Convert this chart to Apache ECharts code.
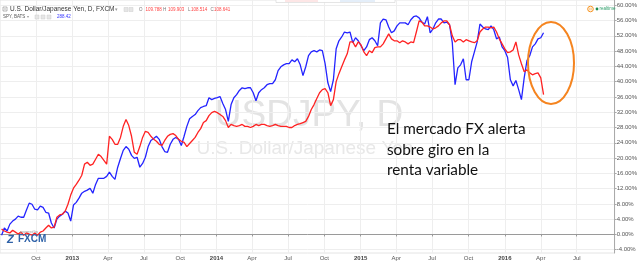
<!DOCTYPE html>
<html><head><meta charset="utf-8">
<script src="https://cdn.jsdelivr.net/npm/echarts@6/dist/echarts.min.js"></script>
<style>html,body{margin:0;padding:0;background:#fff}#c{width:640px;height:261px}</style>
</head><body><div id="c"></div>
<script>
// Weekly samples, % change since first week
const firstWeekUTC = [2012, 6, 6];
const usdjpy = [1.4,0.9,0.6,0.4,1.1,0.6,0.1,0.6,-0.2,0.4,
0.1,-0.2,0.4,-0.2,0.6,0.9,1.7,2.4,1.7,1.9,
4.5,5.1,5.3,6.1,7.9,10.3,12.1,13.1,14.2,15.5,
18.4,18.9,18.1,18.4,19.7,21.0,20.4,19.4,18.4,25.7,
24.9,23.6,23.6,25.4,28.3,30.1,28.5,25.7,21.5,21.0,
23.0,25.4,27.0,26.7,25.7,24.9,24.4,23.6,23.3,24.6,
25.7,26.2,26.4,25.9,24.9,24.4,24.1,23.0,23.8,24.6,
25.4,26.7,27.7,29.3,29.8,31.1,31.9,32.2,31.9,31.4,
30.9,29.8,28.0,28.8,28.5,28.3,28.5,28.8,28.3,28.3,
28.0,28.3,28.8,28.5,28.8,28.8,28.5,28.3,28.5,28.8,
28.5,28.3,28.3,28.3,28.0,28.0,28.5,28.8,29.0,29.3,
29.6,30.9,32.7,34.0,35.6,37.1,37.9,38.2,37.1,33.7,
35.3,40.0,42.1,43.9,45.7,47.3,50.4,50.4,49.1,50.4,
49.6,47.8,46.8,48.1,47.6,48.9,49.1,49.1,49.9,51.2,
52.5,51.2,50.7,50.7,50.2,50.7,50.4,49.9,50.4,50.2,
53.0,55.9,55.6,54.6,54.6,54.3,53.8,54.1,54.6,55.4,
55.9,55.9,54.9,52.0,50.4,51.0,51.0,50.4,51.0,50.7,
50.4,50.2,50.7,53.0,53.8,54.3,54.3,54.1,54.3,53.0,
51.2,49.9,48.6,47.6,47.8,48.3,50.4,47.0,44.7,42.6,
43.1,42.3,41.8,42.1,42.3,41.0,36.6];
const spy = [-0.2,1.7,0.9,2.7,3.5,4.0,4.8,4.5,4.5,6.4,
8.2,7.9,6.6,6.4,7.4,7.1,5.8,5.6,3.0,1.7,
4.0,4.8,5.3,6.1,5.6,3.5,7.7,8.4,9.5,10.8,
11.3,11.6,12.1,10.8,13.1,14.7,14.7,14.7,15.2,16.3,
15.2,14.4,17.6,19.9,22.0,23.0,22.3,20.7,19.9,20.2,
17.6,18.6,20.2,23.0,24.6,25.1,25.7,24.9,23.0,21.7,
21.5,23.6,24.9,25.4,24.9,23.3,25.7,28.3,30.3,30.9,
31.4,32.4,33.2,33.5,33.7,35.8,35.3,35.6,35.8,36.1,
34.3,32.7,29.6,34.0,35.8,36.6,37.7,38.4,38.2,38.4,
38.4,37.1,35.0,37.1,37.9,38.4,39.2,39.5,39.5,40.5,
42.9,43.9,44.4,44.7,44.7,45.7,45.2,46.0,44.4,41.6,
43.9,46.8,47.8,48.1,47.8,48.3,48.1,44.7,39.7,37.4,
40.5,48.6,50.7,51.7,53.0,52.8,53.0,50.2,51.5,50.7,
49.4,48.1,49.1,51.0,51.5,50.7,49.4,55.4,56.4,56.2,
54.3,52.8,53.3,54.6,55.4,55.4,55.4,54.9,56.2,57.0,
57.2,56.7,55.6,55.1,57.0,52.8,53.8,55.4,56.4,56.4,
55.4,55.6,54.9,50.2,39.2,43.6,44.4,46.0,40.5,40.5,
45.2,47.8,50.4,55.1,54.3,53.8,53.6,54.6,53.6,51.2,
51.7,49.1,48.1,46.3,40.5,38.9,40.3,37.9,35.3,41.0,
45.5,46.8,49.1,49.9,51.2,51.5,52.8];
const xTickDates = ['2012-10-01','2013-01-01','2013-04-01','2013-07-01','2013-10-01','2014-01-01','2014-04-01','2014-07-01','2014-10-01','2015-01-01','2015-04-01','2015-07-01','2015-10-01','2016-01-01','2016-04-01','2016-07-01'];
const yTicks = [-4,0,4,8,12,16,20,24,28,32,36,40,44,48,52,56,60];
const monthNames = ['Jan','Feb','Mar','Apr','May','Jun','Jul','Aug','Sep','Oct','Nov','Dec'];
const annotationLines = ['El mercado FX alerta','sobre giro en la','renta variable'];

const DAY = 86400000;
const t0 = Date.UTC(firstWeekUTC[0], firstWeekUTC[1], firstWeekUTC[2]);
const weekDates = usdjpy.map((_, i) => t0 + i * 7 * DAY);
const toUTC = s => { const p = s.split('-').map(Number); return Date.UTC(p[0], p[1]-1, p[2]); };
const xTicks = xTickDates.map(toUTC);
const FONT = 'Liberation Sans, Arial, sans-serif';

const chart = echarts.init(document.getElementById('c'), null, {renderer: 'canvas'});
const txt = (x, y, text, font, fill, extra) => Object.assign({
  type: 'text', x: x, y: y, z: 50,
  style: {text: text, font: font, fill: fill, textAlign: 'left', textVerticalAlign: 'middle'}
}, extra || {});

chart.setOption({
  animation: false,
  backgroundColor: '#fff',
  grid: {left: 0, right: 21, top: 0, bottom: 7, show: true, borderColor: '#e4e4e4', borderWidth: 1},
  xAxis: {
    type: 'value',
    min: Date.UTC(2012, 6, 2), max: Date.UTC(2016, 9, 5),
    axisLine: {show: true, lineStyle: {color: '#9a9a9a', width: 1}},
    axisTick: {show: true, customValues: xTicks, length: 2, lineStyle: {color: '#9a9a9a'}},
    axisLabel: {
      customValues: xTicks, fontSize: 6, color: '#555', margin: 2, fontFamily: FONT, hideOverlap: false,
      formatter: v => { const d = new Date(v); return d.getUTCMonth() === 0 ? '{y|' + d.getUTCFullYear() + '}' : monthNames[d.getUTCMonth()]; },
      rich: {y: {fontSize: 6, fontWeight: 'bold', color: '#444', fontFamily: FONT}}
    },
    splitLine: {show: true, lineStyle: {color: '#eeeeee', width: 1}}
  },
  yAxis: {
    type: 'value', position: 'right',
    min: -4.86, max: 61.38,
    axisLine: {show: true, lineStyle: {color: '#aaaaaa', width: 1}},
    axisTick: {show: true, customValues: yTicks, length: 2, lineStyle: {color: '#aaa'}},
    axisLabel: {customValues: yTicks, fontSize: 6, color: '#555', margin: 2, fontFamily: FONT,
      formatter: v => v.toFixed(2) + '%'},
    splitLine: {show: true, lineStyle: {color: '#eeeeee', width: 1}}
  },
  series: [
    {name: 'SPY', type: 'line', showSymbol: false, z: 3,
     lineStyle: {color: '#2424ff', width: 1.3}, itemStyle: {color: '#2424ff'},
     data: spy.map((v, i) => [weekDates[i], v])},
    {name: 'USDJPY', type: 'line', showSymbol: false, z: 4,
     lineStyle: {color: '#ff2222', width: 1.3}, itemStyle: {color: '#ff2222'},
     data: usdjpy.map((v, i) => [weekDates[i], v])}
  ],
  graphic: [
    {type: 'text', x: 309, y: 116, z: 0, silent: true,
     style: {text: 'USDJPY, D', font: '37px ' + FONT, fill: '#e3e3e3', textAlign: 'center', textVerticalAlign: 'middle'}},
    {type: 'text', x: 305, y: 149, z: 0, silent: true,
     style: {text: 'U.S. Dollar/Japanese Yen', font: '19px ' + FONT, fill: '#e8e8e8', textAlign: 'center', textVerticalAlign: 'middle'}},
    // partial toolbar at top
    {type: 'rect', z: 50, shape: {x: 276, y: -1, width: 119, height: 3.5}, style: {fill: '#fff', stroke: '#d4d4d4', lineWidth: 0.6}},
    {type: 'rect', z: 51, shape: {x: 285, y: -1, width: 33, height: 3}, style: {fill: '#fde6e6'}},
    {type: 'rect', z: 51, shape: {x: 340, y: -1, width: 35, height: 3}, style: {fill: '#e4eef9'}},
    // header
    {type: 'rect', z: 50, shape: {x: 3, y: 7, width: 4, height: 4}, style: {fill: 'none', stroke: '#888', lineWidth: 0.6}},
    {type: 'line', z: 50, shape: {x1: 4, y1: 9, x2: 6, y2: 9}, style: {stroke: '#888', lineWidth: 0.6}},
    txt(10, 9.5, 'U.S. Dollar/Japanese Yen, D, FXCM', '6.5px ' + FONT, '#333'),
    txt(115, 9.5, '▾', '5px ' + FONT, '#999'),
    {type: 'rect', z: 50, shape: {x: 124, y: 7.5, width: 4, height: 4}, style: {fill: '#e6e6e6', stroke: '#ccc', lineWidth: 0.5}},
    {type: 'rect', z: 50, shape: {x: 129, y: 7.5, width: 4, height: 4}, style: {fill: '#e6e6e6', stroke: '#ccc', lineWidth: 0.5}},
    txt(139, 9.5, 'O', '4.5px ' + FONT, '#777'),
    txt(145.5, 9.5, '109.788', '4.5px ' + FONT, '#ff4444'),
    txt(163, 9.5, 'H', '4.5px ' + FONT, '#777'),
    txt(168, 9.5, '109.903', '4.5px ' + FONT, '#ff4444'),
    txt(188, 9.5, 'L', '4.5px ' + FONT, '#777'),
    txt(191, 9.5, '108.514', '4.5px ' + FONT, '#ff4444'),
    txt(210.5, 9.5, 'C', '4.5px ' + FONT, '#777'),
    txt(214, 9.5, '108.641', '4.5px ' + FONT, '#ff4444'),
    txt(3, 17, 'SPY, BATS', '4.5px ' + FONT, '#555'),
    txt(27, 17, '▾', '4px ' + FONT, '#999'),
    {type: 'rect', z: 50, shape: {x: 35, y: 15, width: 4, height: 4}, style: {fill: '#e6e6e6', stroke: '#ccc', lineWidth: 0.5}},
    {type: 'rect', z: 50, shape: {x: 41, y: 15, width: 4, height: 4}, style: {fill: '#e6e6e6', stroke: '#ccc', lineWidth: 0.5}},
    {type: 'rect', z: 50, shape: {x: 47, y: 15, width: 4, height: 4}, style: {fill: '#e6e6e6', stroke: '#ccc', lineWidth: 0.5}},
    txt(57, 17, '288.42', '4.5px ' + FONT, '#3535ff'),
    // realtime badge
    {type: 'circle', z: 50, shape: {cx: 590.5, cy: 9, r: 2.8}, style: {fill: '#fff', stroke: '#f7931e', lineWidth: 1}},
    {type: 'line', z: 51, shape: {x1: 589.8, y1: 7.6, x2: 589.8, y2: 10.4}, style: {stroke: '#f7931e', lineWidth: 0.6}},
    {type: 'line', z: 51, shape: {x1: 591.2, y1: 7.6, x2: 591.2, y2: 10.4}, style: {stroke: '#f7931e', lineWidth: 0.6}},
    {type: 'circle', z: 50, shape: {cx: 597, cy: 9, r: 1.4}, style: {fill: '#1e8c4e'}},
    txt(599.5, 9, 'realtime', '4.5px ' + FONT, '#2e9e6a'),
    // FXCM logo
    txt(7, 239.5, 'Z', 'italic bold 11px ' + FONT, '#2f62a8'),
    txt(18, 239.5, 'FXCM', 'bold 10px ' + FONT, '#2f62a8'),
    txt(20, 232, 'powered by', '3.5px ' + FONT, '#999'),
    // annotation
    txt(387, 129, annotationLines[0], '15.3px Lato', '#111', {z: 60}),
    txt(387, 150, annotationLines[1], '15.3px Lato', '#111', {z: 60}),
    txt(387, 170.5, annotationLines[2], '15.3px Lato', '#111', {z: 60}),
    {type: 'ellipse', z: 60, shape: {cx: 551, cy: 63, rx: 23, ry: 41}, style: {fill: 'none', stroke: '#f5841f', lineWidth: 2}}
  ]
});
</script></body></html>
